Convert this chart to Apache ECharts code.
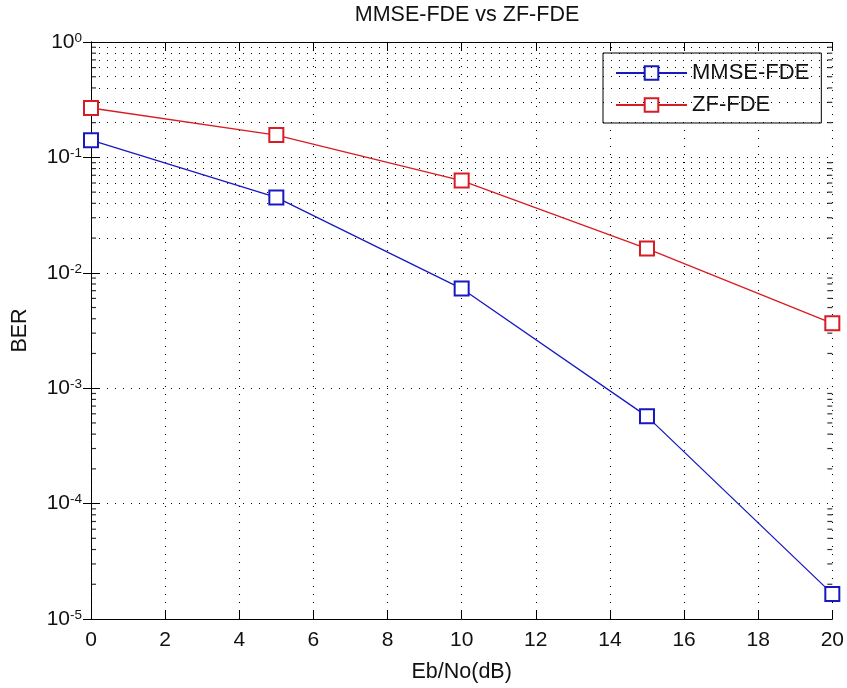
<!DOCTYPE html>
<html>
<head>
<meta charset="utf-8">
<title>MMSE-FDE vs ZF-FDE</title>
<script src="https://cdn.jsdelivr.net/npm/echarts@6/dist/echarts.min.js"></script>
<style>
  html, body { margin: 0; padding: 0; background: #fff; }
  #chart { width: 847px; height: 688px; }
</style>
</head>
<body>
<div id="chart"></div>
<script>
// Eb/No points (dB)
const ebno = [0, 5, 10, 15, 20];
// bit error rates for the two equalisers
const berMMSE = [0.141, 0.045, 0.0073, 5.7e-4, 1.65e-5];
const berZF = [0.268, 0.156, 0.063, 0.0162, 0.00365];
const seriesNames = ['MMSE-FDE', 'ZF-FDE'];
// x axis ticks
const xTicks = [0, 2, 4, 6, 8, 10, 12, 14, 16, 18, 20];
// decades of the log axis (exponents) and the minor positions inside each one
const decades = [-5, -4, -3, -2, -1];
const minorMantissas = [2, 3, 4, 5, 6, 7, 8, 9];

const FONT = '"Liberation Sans", Arial, Helvetica, sans-serif';
const minorValues = [];
decades.forEach(function (e) {
  minorMantissas.forEach(function (m) { minorValues.push(m * Math.pow(10, e)); });
});

const dotted = { color: '#000', width: 1.1, type: [1, 7] };

const chart = echarts.init(document.getElementById('chart'), null, { renderer: 'canvas' });

const option = {
  animation: false,
  backgroundColor: '#fff',
  textStyle: { fontFamily: FONT },
  title: {
    text: 'MMSE-FDE vs ZF-FDE',
    left: 462,
    textAlign: 'center',
    top: -1,
    textStyle: { fontFamily: FONT, fontSize: 21.5, fontWeight: 'normal', color: '#111' }
  },
  legend: {
    data: seriesNames,
    orient: 'vertical',
    left: 603,
    top: 53,
    padding: [8, 12, 6, 12],
    itemWidth: 71,
    itemHeight: 17,
    itemGap: 8,
    borderColor: '#000',
    borderWidth: 1,
    borderRadius: 0,
    backgroundColor: '#fff',
    textStyle: { fontFamily: FONT, fontSize: 22, lineHeight: 24, color: '#111' }
  },
  grid: { left: 91, right: 13, top: 42, bottom: 65, containLabel: false },
  xAxis: [
    {
      type: 'value',
      min: 0, max: 20, interval: 2,
      position: 'bottom',
      name: 'Eb/No(dB)',
      nameLocation: 'middle',
      nameGap: 42,
      nameTextStyle: { fontFamily: FONT, fontSize: 21.5, color: '#111' },
      axisLine: { show: true, lineStyle: { color: '#000', width: 1 } },
      axisTick: { show: true, inside: true, length: 8, lineStyle: { color: '#000' } },
      axisLabel: {
        margin: 11, fontFamily: FONT, fontSize: 21, color: '#111',
        formatter: function (v) { return xTicks.indexOf(v) >= 0 ? String(v) : ''; }
      },
      splitLine: { show: true, lineStyle: dotted }
    },
    {
      type: 'value',
      min: 0, max: 20, interval: 2,
      position: 'top',
      axisLine: { show: true, lineStyle: { color: '#000', width: 1 } },
      axisTick: { show: true, inside: true, length: 8, lineStyle: { color: '#000' } },
      axisLabel: { show: false },
      splitLine: { show: false }
    }
  ],
  yAxis: [
    {
      type: 'log',
      logBase: 10,
      min: 1e-5, max: 1,
      position: 'left',
      name: 'BER',
      nameLocation: 'middle',
      nameGap: 60,
      nameRotate: 90,
      nameTextStyle: { fontFamily: FONT, fontSize: 21.5, color: '#111' },
      axisLine: { show: true, lineStyle: { color: '#000', width: 1 } },
      axisTick: { show: true, inside: true, length: 8, lineStyle: { color: '#000' } },
      axisLabel: {
        margin: 9,
        formatter: function (v) {
          const e = Math.round(Math.log10(v));
          return '{b|10}{s|' + e + '}';
        },
        rich: {
          b: { fontFamily: FONT, fontSize: 21, lineHeight: 22, color: '#111', verticalAlign: 'middle' },
          s: { fontFamily: FONT, fontSize: 13.5, lineHeight: 13, color: '#111', verticalAlign: 'top', padding: [0, 0, 4, 0] }
        }
      },
      splitLine: { show: true, lineStyle: dotted }
    },
    {
      type: 'log',
      logBase: 10,
      min: 1e-5, max: 1,
      position: 'right',
      axisLine: { show: true, lineStyle: { color: '#000', width: 1 } },
      axisTick: { show: true, inside: true, length: 8, lineStyle: { color: '#000' } },
      axisLabel: { show: false },
      splitLine: { show: false }
    }
  ],
  series: [
    // minor grid lines at 2..9 within each decade
    {
      type: 'line',
      name: 'minor-grid',
      data: [],
      silent: true,
      markLine: {
        silent: true,
        symbol: ['none', 'none'],
        label: { show: false },
        lineStyle: dotted,
        emphasis: { disabled: true },
        data: minorValues.map(function (v) { return { yAxis: v }; })
      }
    },
    // minor ticks on the left frame edge
    {
      type: 'scatter',
      name: 'minor-left',
      silent: true,
      clip: false,
      symbol: 'rect',
      symbolSize: [5, 1.2],
      symbolOffset: [2.5, 0],
      itemStyle: { color: '#000' },
      data: minorValues.map(function (v) { return [xTicks[0], v]; }),
      z: 5
    },
    // minor ticks on the right frame edge
    {
      type: 'scatter',
      name: 'minor-right',
      silent: true,
      clip: false,
      symbol: 'rect',
      symbolSize: [5, 1.2],
      symbolOffset: [-2.5, 0],
      itemStyle: { color: '#000' },
      data: minorValues.map(function (v) { return [xTicks[xTicks.length - 1], v]; }),
      z: 5
    },
    {
      type: 'line',
      name: seriesNames[0],
      data: ebno.map(function (x, i) { return [x, berMMSE[i]]; }),
      symbol: 'emptyRect',
      symbolSize: 14,
      clip: false,
      lineStyle: { color: '#1818c0', width: 1.3 },
      itemStyle: { color: '#1818c0', borderWidth: 1.5 },
      z: 10
    },
    {
      type: 'line',
      name: seriesNames[1],
      data: ebno.map(function (x, i) { return [x, berZF[i]]; }),
      symbol: 'emptyRect',
      symbolSize: 14,
      clip: false,
      lineStyle: { color: '#d81c24', width: 1.3 },
      itemStyle: { color: '#d81c24', borderWidth: 1.5 },
      z: 10
    }
  ]
};

chart.setOption(option);
</script>
</body>
</html>
